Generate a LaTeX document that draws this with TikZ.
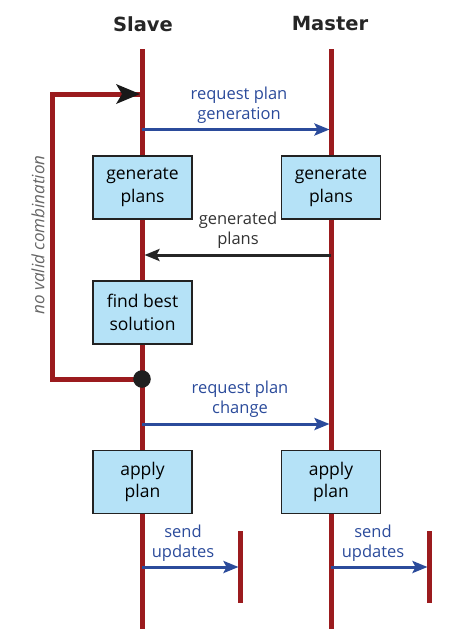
\documentclass[tikz,border=0pt]{standalone}
\usepackage{fontspec}
\setmainfont{Open Sans}
\newfontfamily\titlefont{DejaVu Sans}
\usetikzlibrary{arrows.meta}
\definecolor{lifered}{HTML}{9B1B1E}
\definecolor{msgblue}{HTML}{2B4B9B}
\definecolor{boxfill}{HTML}{B5E2F7}
\definecolor{boxline}{HTML}{222222}
\definecolor{notegray}{HTML}{666666}
\begin{document}
\begin{tikzpicture}[x=1pt,y=-1pt,
  lifeline/.style={draw=lifered,line width=5pt},
  stepbox/.style={draw=boxline,fill=boxfill,line width=1.6pt,minimum width=99pt,minimum height=63pt,
    align=center,font=\fontsize{17.5}{22.5}\selectfont,inner sep=0pt},
  title/.style={font=\titlefont\bfseries\fontsize{19.5}{22}\selectfont,text=black!85},
  bluemsg/.style={draw=msgblue,line width=3pt,-{Stealth[length=15pt,width=12pt,inset=3pt]}},
  blacklbl/.style={align=center,font=\fontsize{16.5}{20}\selectfont,text=black!80},
  bluelbl/.style={align=center,font=\fontsize{16.5}{20}\selectfont,text=msgblue},
  loopline/.style={draw=lifered,line width=5pt}
]
\useasboundingbox (0,0) rectangle (454,643);

% lifelines
\coordinate (sTop) at (142,49);
\coordinate (sBot) at (142,629);
\coordinate (mTop) at (331,49);
\coordinate (mBot) at (331,629);
\draw[lifeline] (sTop) -- (sBot);
\draw[lifeline] (mTop) -- (mBot);

% short lifelines receiving the updates
\coordinate (uaTop) at (240,531);
\coordinate (uaBot) at (240,603);
\coordinate (ubTop) at (429,531);
\coordinate (ubBot) at (429,603);
\draw[lifeline] (uaTop) -- (uaBot);
\draw[lifeline] (ubTop) -- (ubBot);

% titles
\node[title] (slave) at (143,24) {Slave};
\node[title] (master) at (330,24) {Master};

% activity boxes
\node[stepbox] (sgen) at (142.5,187.5) {generate\\plans};
\node[stepbox] (mgen) at (331,187.5) {generate\\plans};
\node[stepbox] (best) at (142.5,312.5) {find best\\solution};
\node[stepbox] (sapply) at (142.5,482) {apply\\plan};
\node[stepbox] (mapply) at (331,482) {apply\\plan};

% message anchors on the lifelines
\coordinate (s1) at (142,129.5);
\coordinate (m1) at (331,129.5);
\coordinate (s2) at (142,255);
\coordinate (m2) at (331,255);
\coordinate (s3) at (142,424);
\coordinate (m3) at (331,424);
\coordinate (s4) at (142,567);
\coordinate (ua) at (240,567);
\coordinate (m4) at (331,567);
\coordinate (ub) at (429,567);

% request plan generation
\draw[bluemsg,shorten >=1.5pt] (s1) -- (m1);
\node[bluelbl] (l1) at (239,105) {request plan\\generation};

% generated plans
\draw[draw=black!85,line width=3pt,-{Stealth[length=15pt,width=12pt,inset=3pt]},shorten >=2.5pt] (m2) -- (s2);
\node[blacklbl] (l2) at (238,230) {generated\\plans};

% retry loop
\coordinate (loopBL) at (52,379);
\coordinate (loopTL) at (52,94);
\coordinate (loopEnd) at (142,94);
\draw[loopline,line join=miter] (s3 |- loopBL) -- (loopBL) -- (loopTL) -- (loopEnd);
\draw[draw=none,fill=black!90] (140,94) -- (116,84) -- (122,94) -- (116,104) -- cycle;
\fill[black!88] (142,379) circle (8.8pt);
\node[rotate=90,font=\itshape\fontsize{17}{20}\selectfont,text=notegray] (note) at (38,235) {no valid combination};

% request plan change
\draw[bluemsg,shorten >=1.5pt] (s3) -- (m3);
\node[bluelbl] (l3) at (240,399) {request plan\\change};

% send updates
\draw[bluemsg,shorten >=1.5pt] (s4) -- (ua);
\node[bluelbl] (l4) at (183,543) {send\\updates};
\draw[bluemsg,shorten >=1.5pt] (m4) -- (ub);
\node[bluelbl] (l5) at (373,543) {send\\updates};
\end{tikzpicture}
\end{document}
